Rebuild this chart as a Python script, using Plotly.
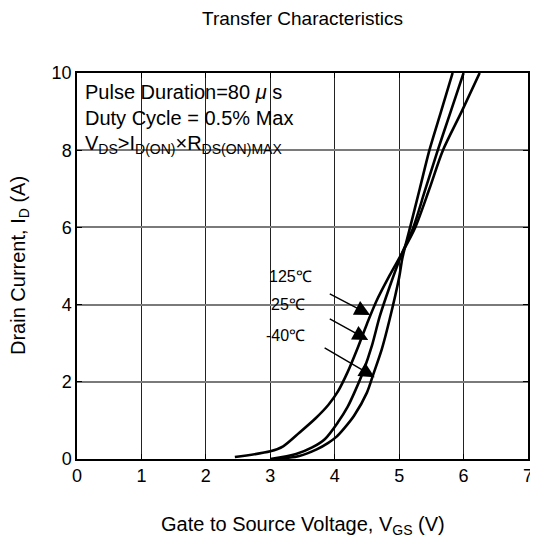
import plotly.graph_objects as go

# Data
vgs_125 = [2.45, 3.0, 3.2, 3.45, 3.7, 3.9, 4.05, 4.2, 4.35, 4.5, 4.65, 4.85, 5.05, 5.25, 5.47, 5.68, 5.97, 6.25]
id_125 = [0.05, 0.2, 0.33, 0.68, 1.05, 1.4, 1.75, 2.25, 2.85, 3.5, 4.1, 4.75, 5.35, 6.0, 7.0, 8.0, 9.0, 10.0]

vgs_25 = [3.0, 3.4, 3.65, 3.85, 4.05, 4.2, 4.3, 4.45, 4.58, 4.7, 4.85, 5.05, 5.22, 5.4, 5.6, 5.8, 6.0]
id_25 = [0.0, 0.13, 0.3, 0.52, 0.95, 1.35, 1.7, 2.3, 2.95, 3.7, 4.45, 5.35, 6.0, 6.95, 8.0, 9.0, 10.0]

vgs_m40 = [3.1, 3.45, 3.72, 3.9, 4.03, 4.15, 4.3, 4.5, 4.6, 4.73, 4.85, 5.0, 5.05, 5.17, 5.32, 5.47, 5.65, 5.83]
id_m40 = [0.0, 0.08, 0.25, 0.42, 0.58, 0.8, 1.12, 1.72, 2.2, 2.84, 3.6, 4.7, 5.2, 6.0, 7.0, 8.0, 9.0, 10.0]

x_ticks = [0, 1, 2, 3, 4, 5, 6, 7]
y_ticks = [0, 2, 4, 6, 8, 10]

temp_labels = ["125℃", "25℃", "-40℃"]
label_x = [2.95, 2.98, 2.91]
label_y = [4.72, 3.99, 3.19]
arrow_tip_x = [4.55, 4.52, 4.62]
arrow_tip_y = [3.73, 3.08, 2.12]
arrow_tail_x = [3.9, 3.9, 3.82]
arrow_tail_y = [4.30, 3.65, 2.90]

FONT = "Liberation Sans, Arial, sans-serif"

fig = go.Figure()
for xs, ys in [(vgs_125, id_125), (vgs_25, id_25), (vgs_m40, id_m40)]:
    fig.add_trace(go.Scatter(x=xs, y=ys, mode="lines",
                             line=dict(color="black", width=2.6, shape="spline", smoothing=0.8),
                             showlegend=False, hoverinfo="skip"))

annotations = []
for t, lx, ly in zip(temp_labels, label_x, label_y):
    annotations.append(dict(x=lx, y=ly, xref="x", yref="y", text=t, showarrow=False,
                            xanchor="left", yanchor="middle",
                            font=dict(family=FONT, size=16, color="black")))
for tx, ty, ax, ay in zip(arrow_tip_x, arrow_tip_y, arrow_tail_x, arrow_tail_y):
    annotations.append(dict(x=tx, y=ty, ax=ax, ay=ay, xref="x", yref="y", axref="x", ayref="y",
                            text="", showarrow=True, arrowhead=2, arrowsize=2.2, arrowwidth=1.4,
                            arrowcolor="black"))

box_lines = ["Pulse Duration=80 <i>μ</i> s", "Duty Cycle = 0.5% Max",
             "V<sub>DS</sub>>I<sub>D(ON)</sub>×R<sub>DS(ON)MAX</sub>"]
for i, line in enumerate(box_lines):
    annotations.append(dict(x=0.013, y=1 - (19 + 26 * i) / 386, xref="paper", yref="paper",
                            text=line, showarrow=False, xanchor="left", yanchor="middle",
                            font=dict(family=FONT, size=20, color="black")))

annotations.append(dict(x=0.5, y=1, xref="paper", yref="paper", yshift=55, text="Transfer Characteristics",
                        showarrow=False, xanchor="center", yanchor="middle",
                        font=dict(family=FONT, size=19, color="black")))
annotations.append(dict(x=0.5, y=0, xref="paper", yref="paper", yshift=-66,
                        text="Gate to Source Voltage, V<sub>GS</sub> (V)",
                        showarrow=False, xanchor="center", yanchor="middle",
                        font=dict(family=FONT, size=20, color="black")))
annotations.append(dict(x=0, y=0.5, xref="paper", yref="paper", xshift=-58,
                        text="Drain Current, I<sub>D</sub> (A)", textangle=-90,
                        showarrow=False, xanchor="center", yanchor="middle",
                        font=dict(family=FONT, size=20, color="black")))

fig.update_layout(
    width=530, height=535,
    margin=dict(l=69, r=10, t=65, b=84),
    paper_bgcolor="white", plot_bgcolor="white",
    annotations=annotations,
    shapes=[dict(type="rect", xref="paper", yref="paper", x0=0.003, x1=0.472, y0=1 - 88 / 386, y1=0.997,
                 fillcolor="white", line=dict(width=0), layer="between")],
)
fig.update_xaxes(range=[0, 7], tickvals=x_ticks, ticks="inside", ticklen=5, tickcolor="black",
                 showgrid=True, gridcolor="#222222", gridwidth=1,
                 showline=True, linecolor="black", linewidth=1.5, mirror="ticks",
                 zeroline=False, automargin=False, ticklabeloverflow="allow",
                 tickfont=dict(family=FONT, size=18, color="black"))
fig.update_yaxes(range=[0, 10], tickvals=y_ticks, ticks="inside", ticklen=5, tickcolor="black",
                 showgrid=True, gridcolor="#7a7a7a", gridwidth=2,
                 showline=True, linecolor="black", linewidth=1.5, mirror="ticks",
                 zeroline=False, automargin=False, ticklabeloverflow="allow",
                 tickfont=dict(family=FONT, size=18, color="black"))

fig.write_html("out.html")
